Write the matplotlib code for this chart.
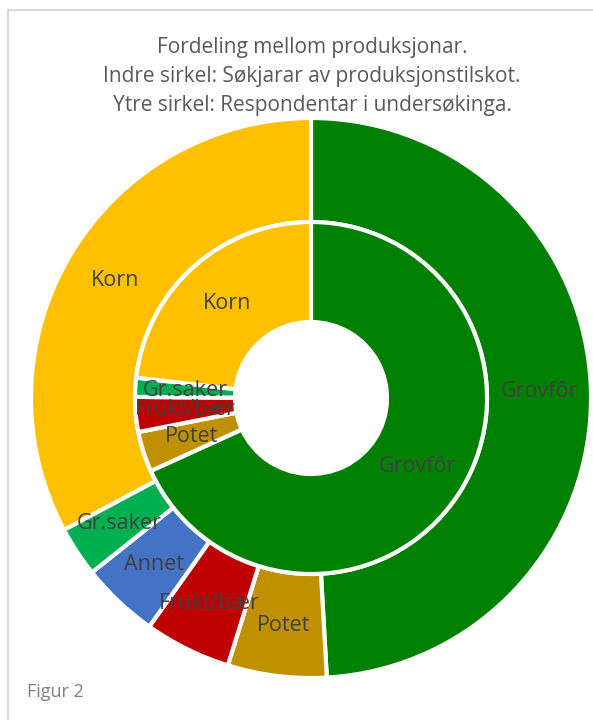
import numpy as np
import matplotlib
matplotlib.use("Agg")
import matplotlib.pyplot as plt
from matplotlib.lines import Line2D

plt.rcParams['font.family'] = ['Open Sans', 'DejaVu Sans']

# ── Data (shares in %) ──
categories = ["Grovfôr", "Potet", "Frukt/bær", "Annet", "Gr.saker", "Korn"]
colors = ["#008000", "#BF9000", "#C00000", "#4472C4", "#00B050", "#FFC000"]
outer_vals = [49.1, 5.7, 5.0, 4.5, 2.9, 32.8]   # Respondentar i undersøkinga
inner_vals = [68.2, 3.7, 3.2, 0.0, 1.75, 23.15]  # Søkjarar av produksjonstilskot
title_lines = ["Fordeling mellom produksjonar.",
               "Indre sirkel: Søkjarar av produksjonstilskot.",
               "Ytre sirkel: Respondentar i undersøkinga."]

W, H = 593, 720
fig = plt.figure(figsize=(W / 100, H / 100), dpi=100)
ax = fig.add_axes([0, 0, 1, 1])

cx, cy = 311, H - 398
R_out, R_in, R_hole = 280, 176, 76
txt = "#404040"

ax.pie(outer_vals, radius=R_out, center=(cx, cy), startangle=90, counterclock=False,
       colors=colors, wedgeprops=dict(width=R_out - R_in, edgecolor="white", linewidth=3))
ax.pie(inner_vals, radius=R_in, center=(cx, cy), startangle=90, counterclock=False,
       colors=colors, wedgeprops=dict(width=R_in - R_hole, edgecolor="white", linewidth=3))


def put_labels(vals, r):
    total = sum(vals)
    start = 0.0
    for name, v in zip(categories, vals):
        if v > 0:
            mid = np.deg2rad((start + v / 2) / total * 360)
            ax.text(cx + r * np.sin(mid), cy + r * np.cos(mid), name, ha="center", va="center",
                    fontsize=15.5, color=txt)
        start += v


put_labels(outer_vals, 229)
put_labels(inner_vals, 126)

for i, line in enumerate(title_lines):
    ax.text(312, H - 47 - i * 29.5, line, ha="center", va="center", fontsize=15, color="#595959")

ax.text(27, H - 692, "Figur 2", ha="left", va="center", fontsize=13, color="#808080")

# chart frame (cropped on right / bottom)
ax.add_line(Line2D([8, W], [H - 10, H - 10], color="#D9D9D9", linewidth=1.5))
ax.add_line(Line2D([8, 8], [0, H - 10], color="#D9D9D9", linewidth=1.5))

ax.set_xlim(0, W)
ax.set_ylim(0, H)
ax.set_aspect("auto")
ax.axis("off")

fig.savefig("out.png", dpi=100)
